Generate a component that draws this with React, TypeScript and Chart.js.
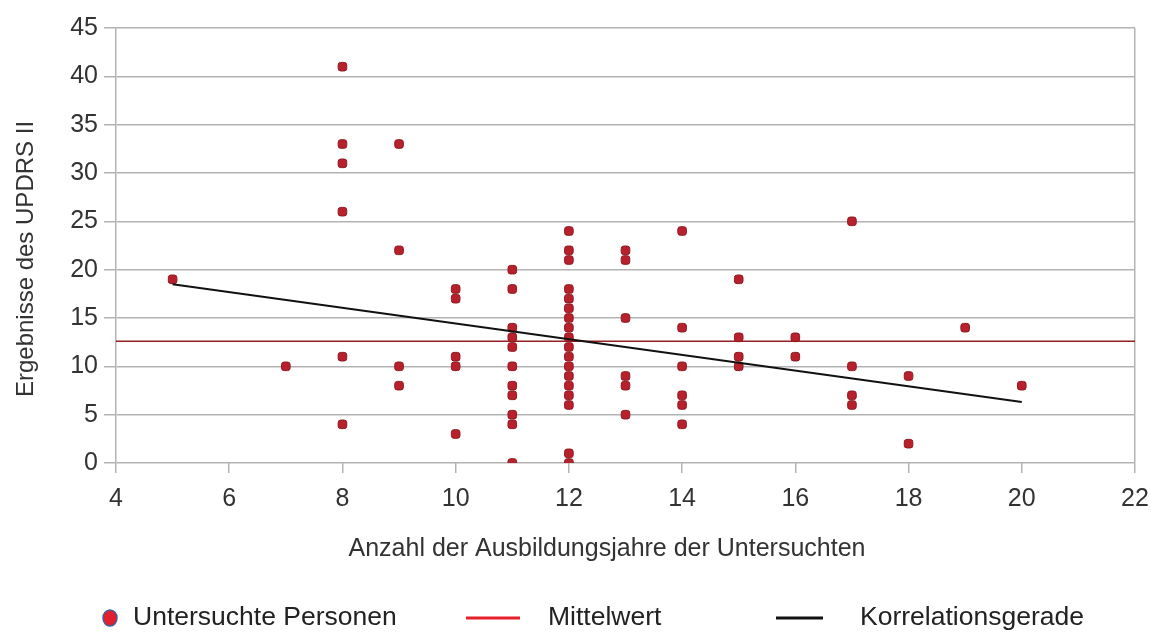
import React, { useEffect, useRef } from "react";
import { Chart, registerables } from "chart.js";

Chart.register(...registerables);

// Each point: years of education (x) and UPDRS II score (y)
const educationYears = [
  5,
  7,
  8, 8, 8, 8, 8, 8,
  9, 9, 9, 9,
  10, 10, 10, 10, 10,
  11, 11, 11, 11, 11, 11, 11, 11, 11, 11, 11,
  12, 12, 12, 12, 12, 12, 12, 12, 12, 12, 12, 12, 12, 12, 12, 12, 12, 12,
  13, 13, 13, 13, 13, 13,
  14, 14, 14, 14, 14, 14,
  15, 15, 15, 15,
  16, 16,
  17, 17, 17, 17,
  18, 18,
  19,
  20,
];
const updrsScores = [
  19,
  10,
  41, 33, 31, 26, 11, 4,
  33, 22, 10, 8,
  18, 17, 11, 10, 3,
  20, 18, 14, 13, 12, 10, 8, 7, 5, 4, 0,
  24, 22, 21, 18, 17, 16, 15, 14, 13, 12, 11, 10, 9, 8, 7, 6, 1, 0,
  22, 21, 15, 9, 8, 5,
  24, 14, 10, 7, 6, 4,
  19, 13, 11, 10,
  13, 11,
  25, 10, 7, 6,
  9, 2,
  14,
  8,
];

const meanX = [4, 22];
const meanY = [12.6, 12.6];
const regressionX = [5, 20];
const regressionY = [18.5, 6.3];

const xTickValues = [4, 6, 8, 10, 12, 14, 16, 18, 20, 22];
const yTickValues = [0, 5, 10, 15, 20, 25, 30, 35, 40, 45];

const legendLabels = ["Untersuchte Personen", "Mittelwert", "Korrelationsgerade"];
const xTitle = "Anzahl der Ausbildungsjahre der Untersuchten";
const yTitle = "Ergebnisse des UPDRS II";

const FONT = '"Liberation Sans", Arial, sans-serif';
const GRID = "#b3b3b3";

const textPlugin = {
  id: "customLegendAndTitle",
  afterDraw(chart: any) {
    const ctx = chart.ctx;
    ctx.save();
    ctx.fillStyle = "#333";
    ctx.textBaseline = "middle";
    ctx.textAlign = "center";
    // x axis title
    ctx.font = `25px ${FONT}`;
    ctx.fillText(xTitle, 607, 549);
    // y axis title
    ctx.save();
    ctx.translate(26, 259);
    ctx.rotate(-Math.PI / 2);
    ctx.font = `24px ${FONT}`;
    ctx.fillText(yTitle, 0, 0);
    ctx.restore();

    const y = 618;
    ctx.font = `26.5px ${FONT}`;
    ctx.textAlign = "left";
    // item 1: marker
    ctx.beginPath();
    ctx.ellipse(110, y, 7, 8, 0, 0, Math.PI * 2);
    ctx.fillStyle = "#e0202c";
    ctx.fill();
    ctx.lineWidth = 1.5;
    ctx.strokeStyle = "#4a5c96";
    ctx.stroke();
    ctx.fillStyle = "#222";
    ctx.fillText(legendLabels[0], 133, y);
    // item 2
    ctx.beginPath();
    ctx.moveTo(466, y);
    ctx.lineTo(520, y);
    ctx.lineWidth = 3;
    ctx.strokeStyle = "#e8202a";
    ctx.stroke();
    ctx.fillText(legendLabels[1], 548, y);
    // item 3
    ctx.beginPath();
    ctx.moveTo(776, y);
    ctx.lineTo(823, y);
    ctx.lineWidth = 3;
    ctx.strokeStyle = "#111";
    ctx.stroke();
    ctx.fillText(legendLabels[2], 860, y);
    ctx.restore();
  },
};

export default function App() {
  const ref = useRef<HTMLCanvasElement | null>(null);

  useEffect(() => {
    document.body.style.margin = "0";
    const canvas = ref.current;
    if (!canvas) return;
    const points = educationYears.map((x, i) => ({ x, y: updrsScores[i] }));
    const mean = meanX.map((x, i) => ({ x, y: meanY[i] }));
    const regression = regressionX.map((x, i) => ({ x, y: regressionY[i] }));

    const chart = new Chart(canvas, {
      type: "scatter",
      data: {
        datasets: [
          {
            type: "line",
            label: legendLabels[1],
            data: mean,
            borderColor: "#951e22",
            borderWidth: 1.5,
            pointRadius: 0,
            fill: false,
            order: 2,
          } as any,
          {
            label: legendLabels[0],
            data: points,
            pointStyle: "rectRounded",
            pointRadius: 5,
            backgroundColor: "#b8202c",
            borderColor: "#8e1a22",
            borderWidth: 1,
            order: 1,
          },
          {
            type: "line",
            label: legendLabels[2],
            data: regression,
            borderColor: "#111",
            borderWidth: 2,
            pointRadius: 0,
            fill: false,
            order: 0,
          } as any,
        ],
      },
      options: {
        responsive: false,
        animation: false,
        layout: { padding: { top: 28, right: 20, bottom: 60, left: 0 } },
        plugins: {
          legend: { display: false },
          tooltip: { enabled: false },
        },
        scales: {
          x: {
            type: "linear",
            min: 4,
            max: 22,
            afterBuildTicks: (scale: any) => {
              scale.ticks = xTickValues.map((v) => ({ value: v }));
            },
            afterFit: (scale: any) => {
              scale.height = 110;
              scale.paddingLeft = 0;
              scale.paddingRight = 0;
            },
            grid: {
              drawOnChartArea: true,
              color: (c: any) =>
                c.tick && c.tick.value === 22 ? GRID : "rgba(0,0,0,0)",
              tickColor: GRID,
              tickLength: 10,
              lineWidth: 1.5,
            },
            border: { display: false },
            ticks: {
              font: { family: FONT, size: 25 },
              color: "#333",
              padding: 11,
              maxRotation: 0,
            },
            title: { display: false },
          },
          y: {
            type: "linear",
            min: 0,
            max: 45,
            afterBuildTicks: (scale: any) => {
              scale.ticks = yTickValues.map((v) => ({ value: v }));
            },
            afterFit: (scale: any) => {
              scale.width = 116;
              scale.paddingTop = 0;
              scale.paddingBottom = 0;
            },
            grid: {
              color: GRID,
              tickColor: GRID,
              tickLength: 12,
              lineWidth: 1.5,
            },
            border: { display: true, color: GRID, width: 1.5 },
            ticks: {
              font: { family: FONT, size: 25 },
              color: "#333",
              padding: 6,
            },
            title: { display: false },
          },
        },
      },
      plugins: [textPlugin],
    });
    return () => chart.destroy();
  }, []);

  return <canvas ref={ref} width={1155} height={633} style={{ display: "block" }} />;
}
